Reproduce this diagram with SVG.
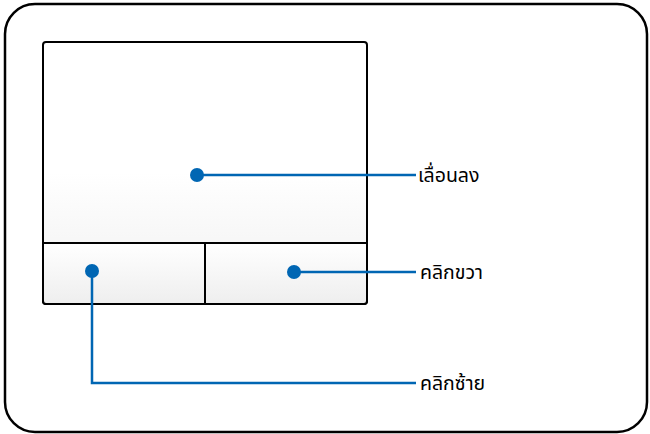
<svg xmlns="http://www.w3.org/2000/svg" width="650" height="434" viewBox="0 0 650 434">
<style>
.frame{fill:#fff;stroke:#000;stroke-width:2.5}
.pad{stroke:#000;stroke-width:2}
.ln{fill:none;stroke:#0066b3;stroke-width:2.5}
.dot{fill:#0066b3}
.lbl{font-family:"Noto Sans Thai","Noto Sans","DejaVu Sans",sans-serif;font-size:19.5px;fill:#000}
</style>
<defs>
<linearGradient id="g1" x1="0" y1="0" x2="0" y2="1">
<stop offset="0" stop-color="#ffffff"/>
<stop offset="0.5" stop-color="#ffffff"/>
<stop offset="1" stop-color="#efefef"/>
</linearGradient>
<linearGradient id="g2" x1="0" y1="0" x2="0" y2="1">
<stop offset="0" stop-color="#ffffff"/>
<stop offset="1" stop-color="#eeeeee"/>
</linearGradient>
</defs>
<rect class="frame" x="5" y="4" width="642" height="428" rx="30"/>
<g id="touchpad">
<rect class="pad" x="43" y="42" width="324" height="262" rx="3" fill="url(#g1)"/>
</g>
<g id="left-button">
<path class="pad" d="M43,243 H205 V304 H46 A3,3 0 0 1 43,301 Z" fill="url(#g2)"/>
</g>
<g id="right-button">
<path class="pad" d="M205,243 H367 V301 A3,3 0 0 1 364,304 H205 Z" fill="url(#g2)"/>
</g>
<g id="connectors">
<circle class="dot" cx="197" cy="175" r="7"/>
<path class="ln" d="M197,175 H416"/>
<circle class="dot" cx="294" cy="272" r="7"/>
<path class="ln" d="M294,272 H416"/>
<circle class="dot" cx="92" cy="271" r="7"/>
<path class="ln" d="M92,271 V383 H416"/>
</g>
<g id="label-scroll"><text class="lbl" x="418" y="182">เลื่อนลง</text></g>
<g id="label-right"><text class="lbl" x="420" y="279">คลิกขวา</text></g>
<g id="label-left"><text class="lbl" x="420" y="390">คลิกซ้าย</text></g>
</svg>
